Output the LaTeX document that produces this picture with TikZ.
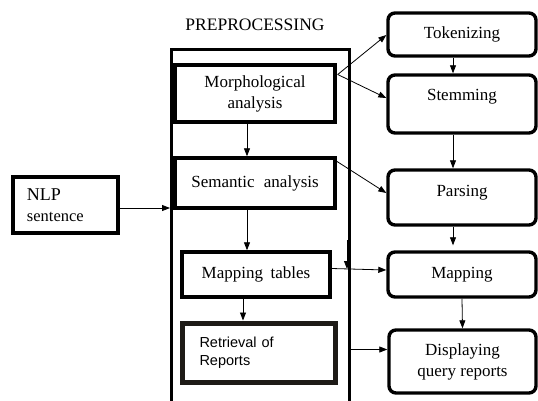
\documentclass[tikz,border=0pt]{standalone}
\usepackage{fontspec}
\setmainfont{Liberation Serif}
\newfontfamily\arialfont{Liberation Sans}
\usetikzlibrary{arrows.meta}
\definecolor{retrcol}{HTML}{1E1B17}
\begin{document}
\begin{tikzpicture}[x=1pt,y=-1pt,
  sqbox/.style={draw, line width=3.4pt, inner sep=0pt},
  rbox/.style={draw, line width=3.4pt, rounded corners=7pt, inner sep=0pt, minimum width=148pt},
  arr/.style={-{Triangle[length=8pt,width=6pt]}, line width=0.8pt},
  txt/.style={font=\fontsize{17}{21}\selectfont, align=center}]
\useasboundingbox (0,0) rectangle (538,400);

% title and container
\node[font=\fontsize{17.5}{21}\selectfont] (title) at (255,25) {PREPROCESSING};
\node[draw, line width=3.4pt, minimum width=178pt, minimum height=360pt, anchor=north west, inner sep=0pt] (pre) at (170,48) {};

% left column
\node[sqbox, txt, minimum width=105pt, minimum height=56pt, text width=77pt, align=left] (nlp) at (65.5,205)
  {{\fontsize{18}{23}\selectfont NLP}\\{\fontsize{16.5}{23}\selectfont sentence}};

% preprocessing boxes
\node[sqbox, txt, minimum width=160pt, minimum height=57pt] (morph) at (255,93.5) {Morphological\\analysis};
\node[sqbox, minimum width=160pt, minimum height=50pt] (sem) at (255,183)
  {\fontsize{17}{21}\selectfont Semantic\hspace{0.3em} analysis};
\node[sqbox, minimum width=148pt, minimum height=45pt] (mtab) at (256,274.5)
  {\fontsize{17}{21}\selectfont Mapping\hspace{0.2em} tables};
\node[draw=retrcol, line width=5pt, inner sep=0pt, minimum width=153pt, minimum height=59pt,
      text width=118pt, align=left, font=\arialfont\fontsize{14.5}{18}\selectfont] (retr) at (258.5,352.5)
  {Retrieval of\\Reports};

% right column
\node[rbox, txt, minimum height=43pt] (tok) at (462,34.5) {Tokenizing};
\node[rbox, minimum height=58pt, label={[txt,yshift=7pt]center:Stemming}] (stem) at (462,104) {};
\node[rbox, minimum height=55pt, label={[txt,yshift=5pt]center:Parsing}] (pars) at (462,197.5) {};
\node[rbox, txt, minimum height=45pt] (map) at (462,274.5) {Mapping};
\node[rbox, txt, minimum width=147pt, minimum height=63pt] (disp) at (462.5,361.5) {Displaying\\query reports};

% connectors
\draw[arr] ([yshift=-3pt]nlp.east) -- ([yshift=-3pt]nlp.east -| pre.west);
\draw[arr] ([xshift=-8pt]morph.south) -- ([xshift=-8pt]sem.north);
\draw[arr] ([xshift=-8pt]sem.south) -- ([xshift=-9pt]mtab.north);
\draw[arr] ([xshift=-13pt]mtab.south) -- ([xshift=-15.5pt]retr.north);

\coordinate (m1) at ([xshift=1pt,yshift=19pt]morph.east);
\draw[arr] (m1) -- ([yshift=-0.5pt]tok.west);
\draw[arr] (m1) -- ([yshift=6pt]stem.west);
\coordinate (s1) at (330,157);
\draw[arr] (s1) -- ([yshift=4.5pt]pars.west);

\draw[arr] ([xshift=-9pt]tok.south) -- ([xshift=-9pt]stem.north);
\draw[arr] ([xshift=-9pt]stem.south) -- ([xshift=-9pt]pars.north);
\draw[arr] ([xshift=-9pt]pars.south) -- ([xshift=-9pt,yshift=5pt]map.north);
\draw[arr] (map.south) -- (disp.north);

\draw[arr] ([yshift=6pt]mtab.east) -- ([yshift=4.5pt]map.west);
\coordinate (c1) at (347,240);
\coordinate (c2) at (347,269);
\draw[arr] (c1) -- (c2);
\coordinate (d1) at ([yshift=12pt]disp.west);
\draw[arr] (pre.east |- d1) -- (d1);
\end{tikzpicture}
\end{document}
